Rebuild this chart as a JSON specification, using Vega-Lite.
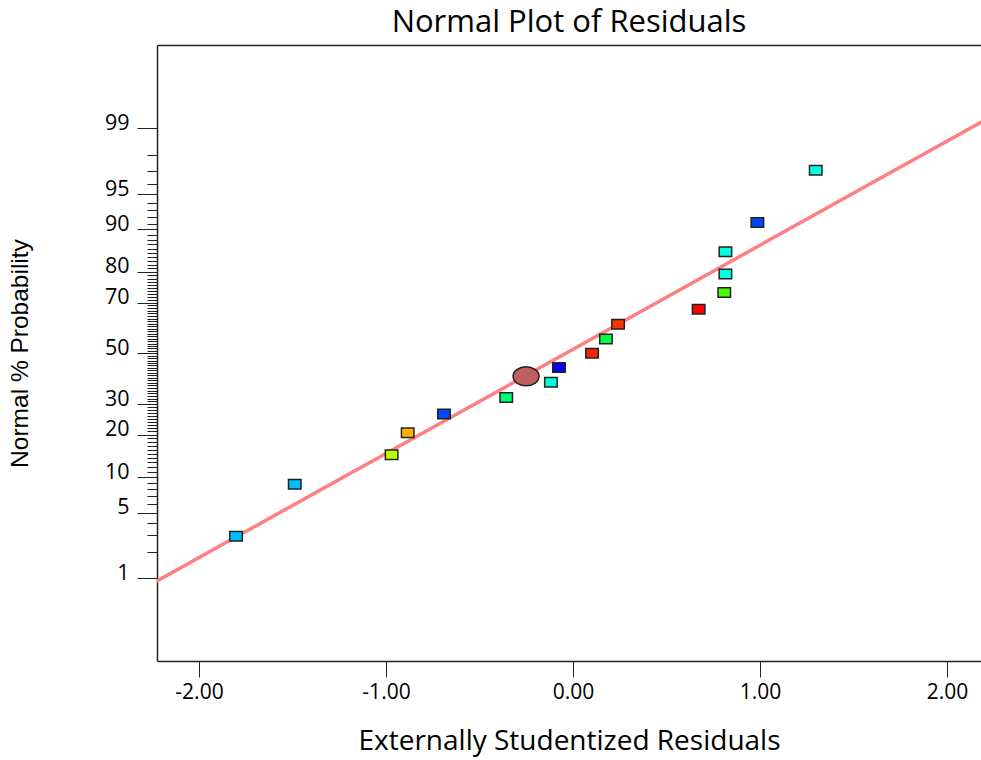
{
  "$schema": "https://vega.github.io/schema/vega-lite/v6.json",
  "width": 824,
  "height": 616,
  "autosize": {"type": "none"},
  "padding": {"left": 157, "top": 45, "right": 0, "bottom": 99},
  "background": "white",
  "title": {"text": "Normal Plot of Residuals", "fontSize": 31, "font": "Open Sans", "fontWeight": "normal", "color": "black", "anchor": "middle", "offset": 6},
  "config": {"view": {"stroke": null}, "font": "Open Sans"},
  "datasets": {
    "residuals": [
      {"run": 1, "residual": -1.802, "normal_score": -1.890, "level": "L03"},
      {"run": 2, "residual": -1.488, "normal_score": -1.352, "level": "L03"},
      {"run": 3, "residual": -0.970, "normal_score": -1.049, "level": "L08"},
      {"run": 4, "residual": -0.884, "normal_score": -0.820, "level": "L09"},
      {"run": 5, "residual": -0.690, "normal_score": -0.628, "level": "L02"},
      {"run": 6, "residual": -0.357, "normal_score": -0.456, "level": "L05"},
      {"run": 8, "residual": -0.118, "normal_score": -0.299, "level": "L04"},
      {"run": 9, "residual": -0.075, "normal_score": -0.147, "level": "L01"},
      {"run": 10, "residual": 0.102, "normal_score": 0.000, "level": "L11"},
      {"run": 11, "residual": 0.176, "normal_score": 0.147, "level": "L06"},
      {"run": 12, "residual": 0.241, "normal_score": 0.299, "level": "L10"},
      {"run": 13, "residual": 0.672, "normal_score": 0.456, "level": "L12"},
      {"run": 14, "residual": 0.809, "normal_score": 0.628, "level": "L07"},
      {"run": 15, "residual": 0.815, "normal_score": 0.820, "level": "L04"},
      {"run": 16, "residual": 0.815, "normal_score": 1.049, "level": "L04"},
      {"run": 17, "residual": 0.986, "normal_score": 1.352, "level": "L02"},
      {"run": 18, "residual": 1.298, "normal_score": 1.890, "level": "L04"}
    ],
    "highlight": [
      {"run": 7, "residual": -0.251, "normal_score": -0.238}
    ],
    "fit": [
      {"residual": -2.3, "normal_score": -2.433},
      {"residual": 2.3, "normal_score": 2.515}
    ]
  },
  "layer": [
    {
      "data": {"name": "fit"},
      "mark": {"type": "line", "color": "#FF8080", "strokeWidth": 3.5, "clip": true},
      "encoding": {
        "x": {"field": "residual", "type": "quantitative",
              "scale": {"domain": [-2.2246, 2.1818], "nice": false, "zero": false},
              "axis": {"orient": "top", "labels": false, "ticks": false, "title": null, "grid": false, "domainColor": "#222222", "domainWidth": 1.5}},
        "y": {"field": "normal_score", "type": "quantitative"}
      }
    },
    {
      "data": {"name": "residuals"},
      "mark": {"type": "point", "shape": "M-1,-0.76H1V0.76H-1Z", "size": 156, "filled": true, "opacity": 1, "stroke": "#222222", "strokeWidth": 1.5},
      "encoding": {
        "x": {"field": "residual", "type": "quantitative",
              "axis": {"orient": "bottom", "values": [-2, -1, 0, 1, 2], "labelExpr": "replace(format(datum.value, '.2f'), '\u2212', '-')", "grid": false,
                       "title": "Externally Studentized Residuals", "titleFontSize": 28, "titleFontWeight": "normal", "titleColor": "black", "titlePadding": 25,
                       "labelFontSize": 21, "labelColor": "black", "labelPadding": 4, "labelFlush": false,
                       "tickSize": 16, "tickColor": "#222222", "domainColor": "#222222", "domainWidth": 1.5}},
        "y": {"field": "normal_score", "type": "quantitative",
              "scale": {"domain": [-3.179, 3.185], "nice": false, "zero": false},
              "axis": {"title": "Normal % Probability", "titleFont": "Liberation Sans", "titleFontSize": 24.5, "titleFontWeight": "normal", "titleColor": "black", "titlePadding": 72,
                       "grid": false, "domainColor": "#222222", "domainWidth": 1.5, "tickColor": "#222222", "tickCount": 500,
                       "labelFontSize": 21.5, "labelColor": "black", "labelPadding": 8, "labelOffset": -5, "labelOverlap": false, "labelFlush": false,
                       "values": [-2.3263, -2.0537, -1.8808, -1.7507, -1.6449, -1.5548, -1.4758, -1.4051, -1.3408, -1.2816, -1.2265, -1.175, -1.1264, -1.0803, -1.0364, -0.9945, -0.9542, -0.9154, -0.8779, -0.8416, -0.8064, -0.7722, -0.7388, -0.7063, -0.6745, -0.6433, -0.6128, -0.5828, -0.5534, -0.5244, -0.4959, -0.4677, -0.4399, -0.4125, -0.3853, -0.3585, -0.3319, -0.3055, -0.2793, -0.2533, -0.2275, -0.2019, -0.1764, -0.151, -0.1257, -0.1004, -0.0753, -0.0502, -0.0251, 0, 0.0251, 0.0502, 0.0753, 0.1004, 0.1257, 0.151, 0.1764, 0.2019, 0.2275, 0.2533, 0.2793, 0.3055, 0.3319, 0.3585, 0.3853, 0.4125, 0.4399, 0.4677, 0.4959, 0.5244, 0.5534, 0.5828, 0.6128, 0.6433, 0.6745, 0.7063, 0.7388, 0.7722, 0.8064, 0.8416, 0.8779, 0.9154, 0.9542, 0.9945, 1.0364, 1.0803, 1.1264, 1.175, 1.2265, 1.2816, 1.3408, 1.4051, 1.4758, 1.5548, 1.6449, 1.7507, 1.8808, 2.0537, 2.3263],
                       "tickSize": {"condition": {"test": "indexof([-2.3263, -1.6449, -1.2816, -0.8416, -0.5244, 0, 0.5244, 0.8416, 1.2816, 1.6449, 2.3263], datum.value) >= 0", "value": 20}, "value": 10},
                       "labelExpr": "['1','5','10','20','30','50','70','80','90','95','99'][indexof([-2.3263, -1.6449, -1.2816, -0.8416, -0.5244, 0, 0.5244, 0.8416, 1.2816, 1.6449, 2.3263], datum.value)] || ''"}},
        "color": {"field": "level", "type": "nominal", "legend": null,
                  "scale": {"domain": ["L01", "L02", "L03", "L04", "L05", "L06", "L07", "L08", "L09", "L10", "L11", "L12"],
                            "range": ["#0000FF", "#0048FF", "#00BFFF", "#00FFDD", "#00FF70", "#00FF40", "#44FF00", "#BBFF00", "#FFB300", "#FF3300", "#FF2000", "#FF0000"]}}
      }
    },
    {
      "data": {"name": "highlight"},
      "mark": {"type": "point", "shape": "M-1,0A1,0.73,0,1,0,1,0A1,0.73,0,1,0,-1,0Z", "size": 676, "filled": true, "opacity": 1, "color": "#BF5F5F", "stroke": "#222222", "strokeWidth": 1.5},
      "encoding": {
        "x": {"field": "residual", "type": "quantitative", "axis": null},
        "y": {"field": "normal_score", "type": "quantitative"}
      }
    }
  ],
  "resolve": {"axis": {"x": "independent"}}
}
